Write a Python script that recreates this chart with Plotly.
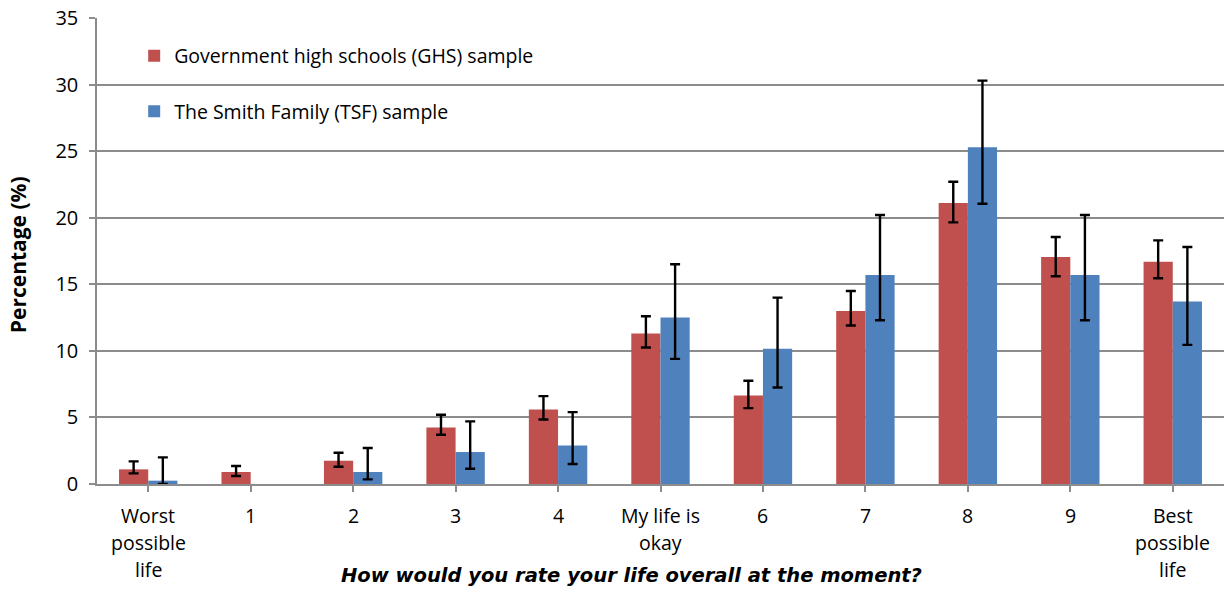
import plotly.graph_objects as go

# Life-satisfaction ratings (0 = worst possible life, 10 = best possible life)
categories = ["Worst\npossible\nlife", "1", "2", "3", "4", "My life is\nokay",
              "6", "7", "8", "9", "Best\npossible\nlife"]

ghs_label = "Government high schools (GHS) sample"
tsf_label = "The Smith Family (TSF) sample"

ghs_values = [1.1, 0.9, 1.75, 4.25, 5.6, 11.3, 6.65, 13.0, 21.1, 17.05, 16.7]
ghs_upper = [1.7, 1.35, 2.35, 5.2, 6.6, 12.6, 7.75, 14.5, 22.7, 18.55, 18.3]
ghs_lower = [0.8, 0.6, 1.3, 3.7, 4.85, 10.25, 5.7, 11.9, 19.65, 15.6, 15.45]

# no TSF respondents chose rating 1
tsf_values = [0.25, None, 0.9, 2.4, 2.9, 12.5, 10.15, 15.7, 25.3, 15.7, 13.7]
tsf_upper = [2.0, None, 2.7, 4.7, 5.4, 16.5, 14.0, 20.2, 30.3, 20.2, 17.8]
tsf_lower = [0.0, None, 0.35, 1.15, 1.5, 9.4, 7.25, 12.3, 21.05, 12.3, 10.45]

y_ticks = [0, 5, 10, 15, 20, 25, 30, 35]

x_title = "How would you rate your life overall at the moment?"
y_title = "Percentage (%)"

FONT = "Open Sans"
GRID = "#8c8c8c"

idx = list(range(len(categories)))


def err(values, upper, lower):
    plus = [None if u is None else u - v for u, v in zip(upper, values)]
    minus = [None if l is None else v - l for v, l in zip(values, lower)]
    return dict(type="data", symmetric=False, array=plus, arrayminus=minus,
                color="black", thickness=2.4, width=5)


fig = go.Figure()
fig.add_trace(go.Bar(x=idx, y=ghs_values, name=ghs_label, legendgroup="g",
                     marker=dict(color="#C0504D", line=dict(width=0)),
                     error_y=err(ghs_values, ghs_upper, ghs_lower)))
fig.add_trace(go.Bar(x=idx, y=tsf_values, name=tsf_label, legendgroup="t",
                     marker=dict(color="#4F81BD", line=dict(width=0)),
                     error_y=err(tsf_values, tsf_upper, tsf_lower)))

# multi-line category labels, one annotation per line
for i, lab in enumerate(categories):
    for k, line in enumerate(lab.split("\n")):
        fig.add_annotation(x=i, y=0, xref="x", yref="paper", text=line,
                           showarrow=False, yanchor="middle", xanchor="center",
                           yshift=-31 - 27 * k,
                           font=dict(family=FONT, size=19.5, color="#000"))

fig.add_annotation(x=0.474, y=0, xref="paper", yref="paper", text="<b><i>" + x_title + "</i></b>",
                   showarrow=False, yanchor="middle", yshift=-91,
                   font=dict(family="DejaVu Sans", size=19.5, color="#000"))
fig.add_annotation(x=0, y=0.491, xref="paper", yref="paper", text="<b>" + y_title + "</b>",
                   showarrow=False, textangle=-90, xanchor="center", xshift=-79,
                   font=dict(family=FONT, size=21, color="#000"))

# white panel behind the legend, above the gridlines
fig.add_shape(type="rect", xref="paper", yref="y", x0=0.016, x1=0.427, y0=26.3, y1=34.6,
              fillcolor="white", line_width=0, layer="between")

fig.update_layout(
    width=1224, height=590,
    margin=dict(l=97, r=0, t=18, b=106),
    paper_bgcolor="white", plot_bgcolor="white",
    barmode="group", bargap=0.43, bargroupgap=0,
    font=dict(family=FONT, size=19.5, color="#000"),
    showlegend=True,
    legend=dict(x=0.033, y=0.96, xanchor="left", yanchor="top",
                bgcolor="rgba(0,0,0,0)", tracegroupgap=27,
                font=dict(family=FONT, size=19.5, color="#000")),
    xaxis=dict(range=[-0.5, len(categories) - 0.5], tickmode="array", tickvals=idx,
               ticktext=[""] * len(categories), tickson="boundaries", ticks="outside",
               ticklen=6, tickcolor=GRID, tickwidth=1.5,
               showline=True, linecolor=GRID, linewidth=1.5, showgrid=False, zeroline=False),
    yaxis=dict(range=[0, 35], tickmode="array", tickvals=y_ticks, ticks="outside",
               ticklen=6, tickcolor=GRID, tickwidth=1.5, ticklabelstandoff=7,
               showline=True, linecolor=GRID, linewidth=1.5,
               showgrid=True, gridcolor=GRID, gridwidth=1.5, zeroline=False,
               tickfont=dict(family=FONT, size=20, color="#000")),
)

fig.write_html("out.html")
